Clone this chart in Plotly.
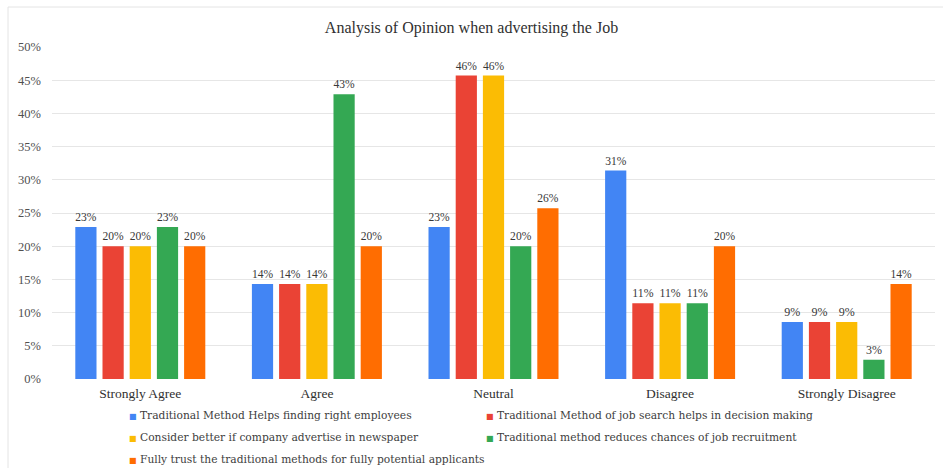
import plotly.graph_objects as go

# Survey responses per opinion level (share of respondents)
categories = ["Strongly Agree", "Agree", "Neutral", "Disagree", "Strongly Disagree"]

series_names = [
    "Traditional Method Helps finding right employees",
    "Traditional Method of job search helps in decision making",
    "Consider better if company advertise in newspaper",
    "Traditional method reduces chances of job recruitment",
    "Fully trust the traditional methods for fully potential applicants",
]

helps_finding = [0.229, 0.143, 0.229, 0.314, 0.086]
decision_making = [0.200, 0.143, 0.457, 0.114, 0.086]
newspaper = [0.200, 0.143, 0.457, 0.114, 0.086]
reduces_chances = [0.229, 0.429, 0.200, 0.114, 0.029]
fully_trust = [0.200, 0.200, 0.257, 0.200, 0.143]

series_values = [helps_finding, decision_making, newspaper, reduces_chances, fully_trust]
colors = ["#4285F4", "#EA4335", "#FBBC04", "#34A853", "#FF6D01"]

# legend layout: first column holds series 0, 2, 4; second column series 1, 3
legend_of = ["legend", "legend2", "legend", "legend2", "legend"]

FONT = "Liberation Serif, serif"
LEGEND_FONT = "DejaVu Serif, serif"

fig = go.Figure()
for name, vals, col in zip(series_names, series_values, colors):
    fig.add_trace(go.Bar(
        x=categories, y=vals, name=name,
        marker=dict(color=col, line=dict(width=0)),
        texttemplate="%{y:.0%}", textposition="outside",
        textfont=dict(family=FONT, size=12, color="#383838"),
        cliponaxis=False, showlegend=False,
    ))

# legend entries: a small coloured square glyph placed right before the label
for i, (name, col, lg) in enumerate(zip(series_names, colors, legend_of)):
    fig.add_trace(go.Scatter(
        x=[None], y=[None], mode="markers",
        name=f"<span style='color:{col};font-size:8px'>■</span> {name}",
        marker=dict(symbol="square", size=1, color="rgba(0,0,0,0)"),
        legend=lg, legendgroup=f"g{i}", showlegend=True,
    ))

legend_common = dict(
    orientation="v", yanchor="top", xanchor="left",
    font=dict(family=LEGEND_FONT, size=10.7, color="#404040"),
    bgcolor="rgba(0,0,0,0)", tracegroupgap=3, itemwidth=30,
)

fig.update_layout(
    width=943, height=468,
    margin=dict(l=52, r=8, t=47, b=89, autoexpand=False),
    paper_bgcolor="white", plot_bgcolor="white",
    title=dict(
        text="Analysis of Opinion when advertising the Job",
        x=0.5, xanchor="center", y=0.942, yanchor="middle",
        font=dict(family=FONT, size=16, color="#303030"),
    ),
    barmode="group", bargap=0.23, bargroupgap=0.22,
    xaxis=dict(
        tickfont=dict(family=FONT, size=13.5, color="#303030"),
        showgrid=False, showline=False, ticks="", ticklabelstandoff=4,
    ),
    yaxis=dict(
        range=[0, 0.5], dtick=0.05, tickformat=".0%",
        tickfont=dict(family=FONT, size=12.5, color="#505050"),
        gridcolor="#e6e6e6", gridwidth=1, zeroline=False,
        showline=False, ticks="", ticklabelstandoff=10,
    ),
    legend=dict(x=(89 - 52) / 883, y=-21 / 332, **legend_common),
    legend2=dict(x=(446 - 52) / 883, y=-21 / 332, **legend_common),
    showlegend=True,
)

# faint outer frame
fig.add_shape(
    type="rect", xref="paper", yref="paper",
    x0=(8 - 52) / 883, x1=1 + 20 / 883, y0=-110 / 332, y1=1 + 40 / 332,
    line=dict(color="#e4e4e4", width=1), fillcolor="rgba(0,0,0,0)", layer="below",
)

fig.write_html("out.html")
